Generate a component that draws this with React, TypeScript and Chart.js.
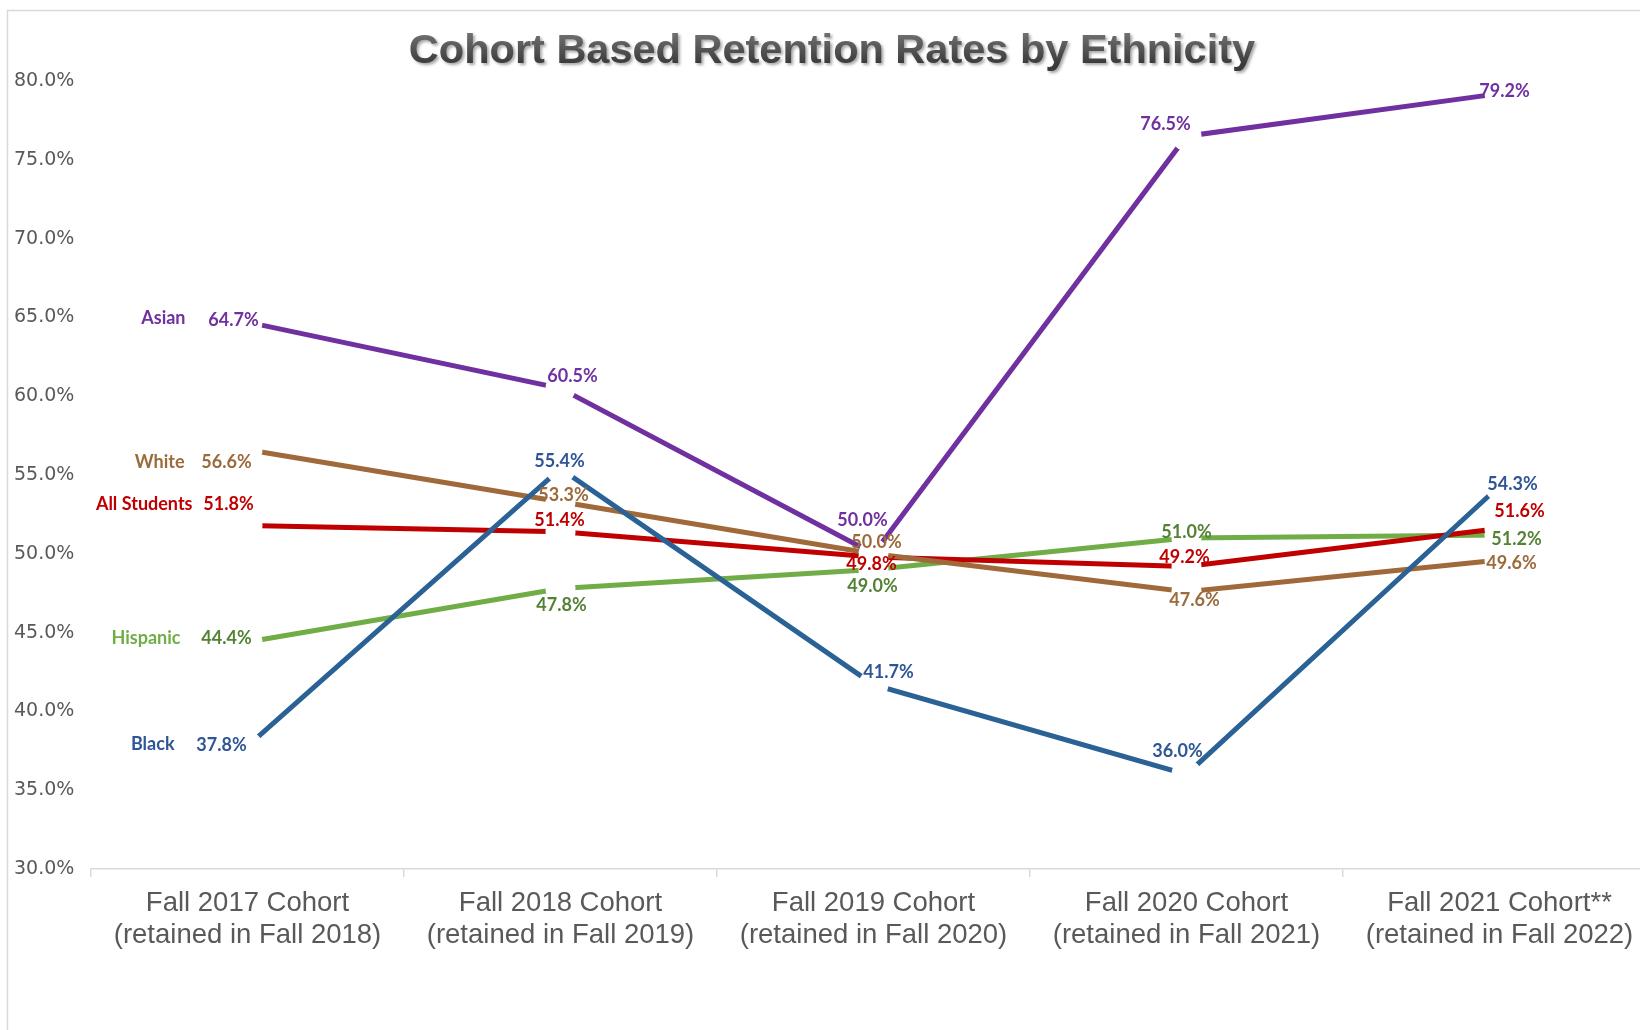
import React, { useEffect, useRef } from "react";
import { Chart, registerables } from "chart.js";

Chart.register(...registerables);

const categories: string[][] = [
  ["Fall 2017 Cohort", "(retained in Fall 2018)"],
  ["Fall 2018 Cohort", "(retained in Fall 2019)"],
  ["Fall 2019 Cohort", "(retained in Fall 2020)"],
  ["Fall 2020 Cohort", "(retained in Fall 2021)"],
  ["Fall 2021 Cohort**", "(retained in Fall 2022)"],
];

const seriesNames = ["Black", "White", "All Students", "Hispanic", "Asian"];
const black = [37.8, 55.4, 41.7, 36.0, 54.3];
const white = [56.6, 53.3, 50.0, 47.6, 49.6];
const allStudents = [51.8, 51.4, 49.8, 49.2, 51.6];
const hispanic = [44.4, 47.8, 49.0, 51.0, 51.2];
const asian = [64.7, 60.5, 50.0, 76.5, 79.2];

const yMin = 30;
const yMax = 80;
const yStep = 5;

const lineColors = ["#2B6296", "#A0693A", "#C00000", "#70AD47", "#7030A0"];
const valueLabelColors = ["#2F5597", "#9C6A3B", "#C00000", "#548235", "#7030A0"];
const nameLabelColors = ["#2F5597", "#9C6A3B", "#C00000", "#70AD47", "#7030A0"];

// value label centre offsets (px) relative to each point: [dx, dy]
const valueOffsets: number[][][] = [
  [[-26, -1], [-1, -8], [15, -12], [-9, -23], [13, -2]],
  [[-21, 12], [3, -7], [3, -12], [8, 9], [12, 3]],
  [[-19, -21], [-1, -12], [-2, 7], [-2, -9], [20, -17]],
  [[-21, -4], [1, 17], [-1, 17], [0, -6], [17, 4]],
  [[-14, -2], [12, -12], [-11, -34], [-21, -12], [5, -2]],
];
// series name label: right edge offset from the first point [dx, dy]
const nameOffsets: number[][] = [
  [-73, -2],
  [-63, 12.5],
  [-55, -21],
  [-67, -4],
  [-62, -4],
];

const GAP_R = 15;

const gapPlugin = {
  id: "gapPlugin",
  beforeDatasetDraw(chart: any, args: any) {
    const ctx = chart.ctx;
    ctx.save();
    ctx.beginPath();
    ctx.rect(0, 0, chart.width, chart.height);
    args.meta.data.forEach((p: any) => {
      ctx.moveTo(p.x + GAP_R, p.y);
      ctx.arc(p.x, p.y, GAP_R, 0, Math.PI * 2, true);
    });
    ctx.clip("evenodd");
  },
  afterDatasetDraw(chart: any) {
    chart.ctx.restore();
  },
};

const decorPlugin = {
  id: "decorPlugin",
  beforeDraw(chart: any) {
    const ctx = chart.ctx;
    ctx.save();
    ctx.fillStyle = "#ffffff";
    ctx.fillRect(0, 0, chart.width, chart.height);
    ctx.strokeStyle = "#D9D9D9";
    ctx.lineWidth = 1.5;
    ctx.strokeRect(7.5, 10.5, chart.width + 20, chart.height + 20);
    ctx.restore();
  },
  afterDraw(chart: any) {
    const ctx = chart.ctx;
    ctx.save();
    ctx.font = "bold 41.5px 'Liberation Sans', Arial, sans-serif";
    ctx.textAlign = "center";
    ctx.textBaseline = "alphabetic";
    const g = ctx.createLinearGradient(0, 30, 0, 64);
    g.addColorStop(0, "#767676");
    g.addColorStop(1, "#3a3a3a");
    ctx.shadowColor = "rgba(0,0,0,0.35)";
    ctx.shadowOffsetX = 2;
    ctx.shadowOffsetY = 2;
    ctx.shadowBlur = 3;
    ctx.fillStyle = g;
    ctx.fillText("Cohort Based Retention Rates by Ethnicity", 832, 63);
    ctx.restore();

    // data labels
    ctx.save();
    ctx.font = "bold 18px Lato, 'Open Sans', sans-serif";
    ctx.textBaseline = "middle";
    chart.data.datasets.forEach((ds: any, di: number) => {
      const meta = chart.getDatasetMeta(di);
      meta.data.forEach((p: any, i: number) => {
        const [dx, dy] = valueOffsets[di][i];
        ctx.textAlign = "center";
        ctx.fillStyle = valueLabelColors[di];
        ctx.fillText(ds.data[i].toFixed(1) + "%", p.x + dx, p.y + dy);
        if (i === 0) {
          const [nx, ny] = nameOffsets[di];
          ctx.textAlign = "right";
          ctx.fillStyle = nameLabelColors[di];
          ctx.fillText(ds.label, p.x + nx, p.y + ny);
        }
      });
    });
    ctx.restore();
  },
};

export default function App() {
  const ref = useRef<HTMLCanvasElement | null>(null);
  useEffect(() => {
    if (!ref.current) return;
    const seriesData = [black, white, allStudents, hispanic, asian];
    const chart = new Chart(ref.current, {
      type: "line",
      data: {
        labels: categories,
        datasets: seriesData.map((d, i) => ({
          label: seriesNames[i],
          data: d,
          borderColor: lineColors[i],
          backgroundColor: lineColors[i],
          borderWidth: 5,
          pointRadius: 0,
          pointHoverRadius: 0,
          tension: 0,
          fill: false,
        })),
      },
      options: {
        responsive: false,
        animation: false,
        layout: { padding: { left: 14, top: 81, right: 24, bottom: 0 } },
        plugins: {
          legend: { display: false },
          title: { display: false },
          tooltip: { enabled: false },
        },
        scales: {
          x: {
            offset: true,
            grid: {
              offset: true,
              drawOnChartArea: false,
              drawTicks: true,
              tickLength: 8,
              color: "#D9D9D9",
              lineWidth: 1.5,
            },
            border: { display: true, color: "#D9D9D9", width: 1.5 },
            ticks: {
              color: "#595959",
              padding: 10.5,
              maxRotation: 0,
              autoSkip: false,
              font: { family: "'Liberation Sans', Arial, sans-serif", size: 27.5, lineHeight: 1.15 },
            },
            afterFit: (scale: any) => {
              scale.height = 161;
            },
          },
          y: {
            min: yMin,
            max: yMax,
            grid: { display: false },
            border: { display: false },
            ticks: {
              stepSize: yStep,
              crossAlign: "far",
              color: "#595959",
              font: { family: "'DejaVu Sans', sans-serif", size: 19 },
              callback: (v: any) => Number(v).toFixed(1) + "%",
            },
            afterFit: (scale: any) => {
              scale.width = 77;
            },
          },
        },
      },
      plugins: [gapPlugin, decorPlugin],
    });
    return () => chart.destroy();
  }, []);
  return (
    <div
      style={{
        position: "fixed",
        left: 0,
        top: 0,
        width: 1640,
        height: 1030,
        overflow: "hidden",
        background: "#fff",
      }}
    >
      <canvas ref={ref} width={1680} height={1030} style={{ display: "block", width: 1680, height: 1030 }} />
    </div>
  );
}
